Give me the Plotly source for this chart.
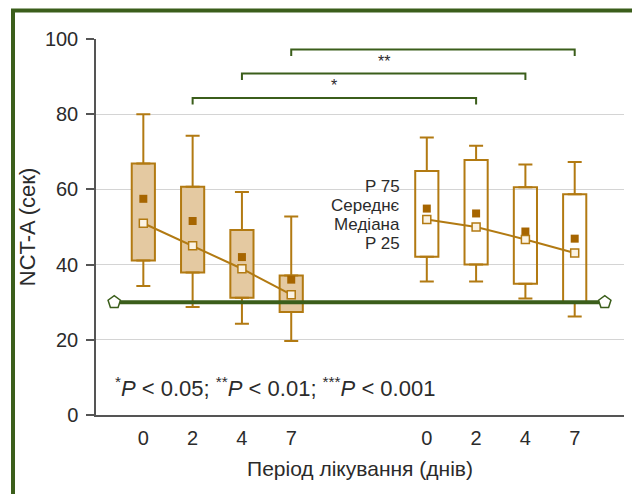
import plotly.graph_objects as go
import numpy as np

# ---- data ----
days = ["0", "2", "4", "7"]
pos_g1 = [0, 1, 2, 3]
pos_g2 = [5.75, 6.75, 7.75, 8.75]

g1_upper = [80.0, 74.3, 59.3, 52.8]
g1_q3 = [66.9, 60.7, 49.2, 37.1]
g1_mean = [57.5, 51.6, 42.0, 36.0]
g1_median = [51.0, 45.0, 38.9, 32.0]
g1_q1 = [41.1, 37.9, 31.2, 27.4]
g1_lower = [34.3, 28.7, 24.3, 19.7]

g2_upper = [73.8, 71.6, 66.6, 67.3]
g2_q3 = [64.9, 67.8, 60.6, 58.7]
g2_mean = [54.9, 53.6, 48.8, 46.9]
g2_median = [52.0, 50.0, 46.7, 43.1]
g2_q1 = [42.1, 40.0, 34.9, 29.8]
g2_lower = [35.5, 35.5, 31.0, 26.2]

threshold = 30
sig_pairs = [(1, 1), (2, 2), (3, 3)]  # index into g1 / g2 positions
sig_levels = [84.3, 90.8, 97.2]
sig_labels = ["*", "**", "***"]
legend_labels = ["P 75", "Середнє", "Медіана", "P 25"]
note_text = "<sup>*</sup><i>P</i> < 0.05; <sup>**</sup><i>P</i> < 0.01; <sup>***</sup><i>P</i> < 0.001"

BROWN = "#b27a12"
TAN = "#e4c9a1"
DARKB = "#a66500"
GREEN = "#3b5e1b"
TXT = "#2b2b2b"
FONT = "Liberation Sans, Arial, sans-serif"

# page body has an 8px margin -> compensate
OFF = 8
L, T, PW, PH = 96 - OFF, 39 - OFF, 528, 376.3

fig = go.Figure()

def add_group(pos, upper, q3, mean, median, q1, lower, fill):
    pos = np.array(pos, float)
    q3a, q1a = np.array(q3), np.array(q1)
    fig.add_trace(go.Bar(x=pos, y=q3a - q1a, base=q1a, width=0.47,
                         marker=dict(color=fill, line=dict(color=BROWN, width=2)),
                         hoverinfo="skip"))
    fig.add_trace(go.Scatter(x=pos, y=q3a, mode="markers", marker=dict(size=1, color=BROWN),
                             error_y=dict(type="data", symmetric=False,
                                          array=np.array(upper) - q3a, arrayminus=np.zeros(4),
                                          color=BROWN, thickness=2, width=7)))
    fig.add_trace(go.Scatter(x=pos, y=q1a, mode="markers", marker=dict(size=1, color=BROWN),
                             error_y=dict(type="data", symmetric=False,
                                          array=np.zeros(4), arrayminus=q1a - np.array(lower),
                                          color=BROWN, thickness=2, width=7)))
    fig.add_trace(go.Scatter(x=pos, y=mean, mode="markers",
                             marker=dict(symbol="square", size=8, color=DARKB)))
    fig.add_trace(go.Scatter(x=pos, y=median, mode="lines+markers",
                             line=dict(color=BROWN, width=2),
                             marker=dict(symbol="square", size=8, color="#fbf3e4",
                                         line=dict(color=BROWN, width=1.5))))

add_group(pos_g1, g1_upper, g1_q3, g1_mean, g1_median, g1_q1, g1_lower, TAN)
add_group(pos_g2, g2_upper, g2_q3, g2_mean, g2_median, g2_q1, g2_lower, "rgba(255,255,255,0)")

# threshold line
fig.add_trace(go.Scatter(x=[-0.59, 9.36], y=[threshold, threshold], mode="lines+markers",
                         line=dict(color=GREEN, width=4),
                         marker=dict(symbol="pentagon", size=13, color="white",
                                     line=dict(color=GREEN, width=1.5)),
                         cliponaxis=False))

# significance brackets
for (i, j), lvl, lab in zip(sig_pairs, sig_levels, sig_labels):
    xa, xb = pos_g1[i], pos_g2[j]
    fig.add_trace(go.Scatter(x=[xa, xa, xb, xb], y=[lvl - 1.7, lvl, lvl, lvl - 1.7],
                             mode="lines", line=dict(color=GREEN, width=2),
                             cliponaxis=False))
    fig.add_annotation(x=(xa + xb) / 2, y=lvl + 3.3, text=lab, showarrow=False,
                       font=dict(size=16, color=TXT, family=FONT))

# box legend labels
for k, lab in enumerate(legend_labels):
    fig.add_annotation(xref="paper", yref="paper", x=(402 - 96) / PW,
                       y=(415.3 - (186.7 + 19 * k)) / PH, text=lab, showarrow=False,
                       xanchor="right", yanchor="middle",
                       font=dict(size=17, color=TXT, family="Liberation Sans Narrow, Arial Narrow, sans-serif"))

fig.add_annotation(x=-0.62, y=7.5, text=note_text, showarrow=False, xanchor="left",
                   yanchor="middle", font=dict(size=22, color=TXT, family=FONT))

# outer frame
fig.add_shape(type="rect", xref="paper", yref="paper",
              x0=(13 - 96) / PW, x1=(635.3 - 96) / PW,
              y0=-0.4, y1=(415.3 - 10.5) / PH,
              line=dict(color=GREEN, width=4), fillcolor="rgba(0,0,0,0)", layer="above")

fig.update_layout(
    width=640, height=494,
    margin=dict(l=L, r=640 - L - PW, t=T, b=494 - T - PH),
    paper_bgcolor="white", plot_bgcolor="white",
    showlegend=False, barmode="overlay",
    font=dict(family=FONT, color=TXT, size=19),
    xaxis=dict(range=[-0.96, 9.75], tickvals=pos_g1 + pos_g2, ticktext=days + days,
               showline=True, linecolor="#555555", linewidth=1.5, showgrid=False,
               ticks="", zeroline=False, tickfont=dict(size=20), ticklabelstandoff=4,
               title=dict(text="Період лікування (днів)", font=dict(size=21), standoff=14)),
    yaxis=dict(range=[0, 100], dtick=20, showline=True, linecolor="#555555", linewidth=1.5,
               ticks="outside", ticklen=8, tickcolor="#555555", tickwidth=1.5,
               gridcolor="#d4d4d4", gridwidth=1.2, zeroline=False, tickfont=dict(size=20),
               ticklabelstandoff=4,
               title=dict(text="NCT-A (сек)", font=dict(size=22), standoff=3)),
)

fig.write_html("out.html")
